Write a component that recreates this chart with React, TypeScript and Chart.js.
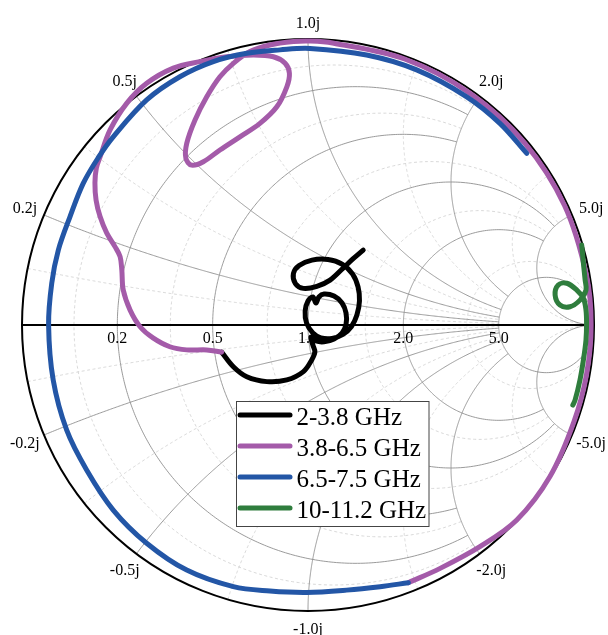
import React, { useEffect, useRef } from "react";
import { Chart, registerables } from "chart.js";

Chart.register(...registerables);

const SERIES_LABELS = ["2-3.8 GHz", "3.8-6.5 GHz", "6.5-7.5 GHz", "10-11.2 GHz"];
const SERIES_COLORS = ["#000000", "#a45ba9", "#2356a6", "#2f7d3d"];

const BLACK_RE = [0.193, 0.157, 0.122, 0.077, 0.031, -0.016, -0.044, -0.051, -0.031, 0.014, 0.07, 0.119, 0.156, 0.175, 0.18, 0.171, 0.152, 0.122, 0.084, 0.045, 0.017, -0.005, -0.01, 0.0, 0.017, 0.028, 0.038, 0.056, 0.091, 0.119, 0.133, 0.133, 0.119, 0.091, 0.056, 0.028, 0.01, 0.017, 0.024, 0.013, -0.016, -0.074, -0.144, -0.214, -0.261, -0.302];
const BLACK_IM = [0.262, 0.231, 0.198, 0.157, 0.135, 0.128, 0.145, 0.18, 0.208, 0.227, 0.229, 0.213, 0.178, 0.133, 0.084, 0.035, -0.005, -0.033, -0.047, -0.045, -0.028, 0.007, 0.049, 0.084, 0.098, 0.077, 0.098, 0.108, 0.101, 0.077, 0.042, 0.003, -0.028, -0.049, -0.059, -0.056, -0.042, -0.07, -0.094, -0.122, -0.163, -0.192, -0.198, -0.181, -0.146, -0.095];

const PURPLE_RE = [-0.302, -0.354, -0.424, -0.483, -0.542, -0.587, -0.622, -0.646, -0.651, -0.657, -0.675, -0.704, -0.727, -0.741, -0.745, -0.74, -0.727, -0.692, -0.634, -0.564, -0.471, -0.378, -0.284, -0.191, -0.121, -0.08, -0.065, -0.074, -0.109, -0.168, -0.238, -0.308, -0.366, -0.407, -0.427, -0.424, -0.395, -0.354, -0.308, -0.261, -0.203, -0.133, -0.051, 0.007, 0.086, 0.338, 0.567, 0.758, 0.897, 0.974, 0.99, 0.974, 0.93, 0.846, 0.73, 0.601, 0.462, 0.351];
const PURPLE_IM = [-0.095, -0.087, -0.087, -0.076, -0.045, -0.006, 0.052, 0.122, 0.192, 0.239, 0.274, 0.322, 0.379, 0.437, 0.497, 0.549, 0.588, 0.682, 0.775, 0.845, 0.898, 0.921, 0.938, 0.944, 0.938, 0.915, 0.88, 0.833, 0.763, 0.705, 0.658, 0.612, 0.571, 0.559, 0.583, 0.635, 0.717, 0.798, 0.868, 0.915, 0.956, 0.979, 0.991, 0.993, 0.986, 0.93, 0.81, 0.636, 0.418, 0.172, 0.0, -0.172, -0.338, -0.53, -0.682, -0.775, -0.851, -0.901];

const BLUE_RE = [0.351, 0.252, 0.135, -0.005, -0.133, -0.261, -0.424, -0.564, -0.681, -0.774, -0.844, -0.891, -0.907, -0.896, -0.873, -0.832, -0.786, -0.734, -0.681, -0.564, -0.448, -0.331, -0.214, -0.098, 0.007, 0.205, 0.38, 0.555, 0.671, 0.765];
const BLUE_IM = [-0.901, -0.915, -0.927, -0.935, -0.93, -0.915, -0.857, -0.763, -0.647, -0.507, -0.367, -0.192, 0.0, 0.146, 0.262, 0.379, 0.495, 0.584, 0.658, 0.787, 0.868, 0.921, 0.95, 0.962, 0.967, 0.944, 0.892, 0.798, 0.705, 0.6];

const GREEN_RE = [0.957, 0.963, 0.969, 0.972, 0.951, 0.916, 0.881, 0.864, 0.875, 0.905, 0.94, 0.963, 0.972, 0.974, 0.972, 0.963, 0.951, 0.934, 0.926];
const GREEN_IM = [0.28, 0.216, 0.157, 0.122, 0.087, 0.064, 0.07, 0.105, 0.14, 0.146, 0.122, 0.093, 0.052, 0.006, -0.052, -0.122, -0.192, -0.262, -0.28];

// ---- Smith chart grid values ----
const MAJOR_TICKS = [0.2, 0.5, 1, 2, 5];
const MAJOR_R_XLIMIT = [2, 2, 5, 5, Infinity];
const MAJOR_X_RLIMIT = [5, 5, 5, 5, Infinity];
const MINOR_TICKS = [0.1, 0.35, 0.75, 1.5, 3.5];
const MINOR_R_XLIMIT = [2, 2, 5, 5, Infinity];
const MINOR_X_RLIMIT = [5, 5, 5, 5, Infinity];

const SERIES = [
  [BLACK_RE, BLACK_IM],
  [PURPLE_RE, PURPLE_IM],
  [BLUE_RE, BLUE_IM],
  [GREEN_RE, GREEN_IM],
];

const FONT = "'Liberation Serif', 'Times New Roman', serif";

function gamma(r: number, x: number): [number, number] {
  const d = (r + 1) * (r + 1) + x * x;
  return [(r * r - 1 + x * x) / d, (2 * x) / d];
}

const N = 400;
function rCurve(r: number, xl: number): [number, number][] {
  const a = xl === Infinity ? Math.PI / 2 : Math.atan(xl);
  const pts: [number, number][] = [];
  for (let i = 0; i <= N; i++) {
    const phi = -a + (2 * a * i) / N;
    if (Math.abs(phi) >= Math.PI / 2 - 1e-9) pts.push([1, 0]);
    else pts.push(gamma(r, Math.tan(phi)));
  }
  return pts;
}
function xCurve(x: number, rl: number): [number, number][] {
  const a = rl === Infinity ? Math.PI / 2 : Math.atan(rl);
  const pts: [number, number][] = [];
  for (let i = 0; i <= N; i++) {
    const psi = (a * i) / N;
    if (psi >= Math.PI / 2 - 1e-9) pts.push([1, 0]);
    else pts.push(gamma(Math.tan(psi), x));
  }
  return pts;
}

const smithPlugin = {
  id: "smithGrid",
  beforeDatasetsDraw(chart: any) {
    const { ctx } = chart;
    const sx = chart.scales.x;
    const sy = chart.scales.y;
    const P = (g: [number, number]) => [sx.getPixelForValue(g[0]), sy.getPixelForValue(g[1])];
    const poly = (pts: [number, number][]) => {
      ctx.beginPath();
      pts.forEach((g, i) => {
        const [px, py] = P(g);
        if (i === 0) ctx.moveTo(px, py);
        else ctx.lineTo(px, py);
      });
      ctx.stroke();
    };
    const cx = sx.getPixelForValue(0);
    const cy = sy.getPixelForValue(0);
    const R = sx.getPixelForValue(1) - cx;

    ctx.save();
    // minor grid
    ctx.setLineDash([3, 2.5]);
    ctx.strokeStyle = "#cfcfcf";
    ctx.lineWidth = 0.8;
    MINOR_TICKS.forEach((t, i) => {
      poly(rCurve(t, MINOR_R_XLIMIT[i]));
      poly(xCurve(t, MINOR_X_RLIMIT[i]));
      poly(xCurve(-t, MINOR_X_RLIMIT[i]));
    });
    // major grid
    ctx.setLineDash([]);
    ctx.strokeStyle = "#8e8e8e";
    ctx.lineWidth = 0.9;
    MAJOR_TICKS.forEach((t, i) => {
      poly(rCurve(t, MAJOR_R_XLIMIT[i]));
      poly(xCurve(t, MAJOR_X_RLIMIT[i]));
      poly(xCurve(-t, MAJOR_X_RLIMIT[i]));
    });
    // boundary and real axis
    ctx.strokeStyle = "#000";
    ctx.lineWidth = 2;
    ctx.beginPath();
    ctx.arc(cx, cy, R, 0, Math.PI * 2);
    ctx.stroke();
    ctx.beginPath();
    ctx.moveTo(cx - R, cy);
    ctx.lineTo(cx + R, cy);
    ctx.stroke();

    // labels
    ctx.fillStyle = "#000";
    ctx.font = `16px ${FONT}`;
    ctx.textAlign = "center";
    ctx.textBaseline = "alphabetic";
    MAJOR_TICKS.forEach((t) => {
      const [px] = P(gamma(t, 0));
      ctx.fillText(t.toFixed(1), px, cy + 18);
    });
    MAJOR_TICKS.forEach((t) => {
      [1, -1].forEach((s) => {
        const g = gamma(0, s * t);
        const d = R + 17 + 4 * Math.abs(g[0]);
        const px = cx + d * g[0];
        const py = cy - d * g[1];
        const label = `${s < 0 ? "-" : ""}${t.toFixed(1)}j`;
        ctx.fillText(label, px, py + 5.5);
      });
    });
    ctx.restore();
  },
  afterDraw(chart: any) {
    const { ctx } = chart;
    const area = chart.chartArea;
    const left = area.left + 214.5;
    const top = area.top + 362.5;
    const w = 192.5;
    const h = 125;
    ctx.save();
    ctx.fillStyle = "#fff";
    ctx.fillRect(left, top, w, h);
    ctx.strokeStyle = "#444";
    ctx.lineWidth = 1;
    ctx.strokeRect(left, top, w, h);
    ctx.font = `25px ${FONT}`;
    ctx.textAlign = "left";
    ctx.textBaseline = "alphabetic";
    chart.data.datasets.forEach((ds: any, i: number) => {
      const y = top + 13.5 + i * 31;
      ctx.strokeStyle = ds.borderColor;
      ctx.lineWidth = 5;
      ctx.lineCap = "round";
      ctx.beginPath();
      ctx.moveTo(left + 3.5, y);
      ctx.lineTo(left + 53.5, y);
      ctx.stroke();
      ctx.fillStyle = "#000";
      ctx.fillText(ds.label, left + 60, y + 9.5);
    });
    ctx.restore();
  },
};

export default function App() {
  const ref = useRef<HTMLCanvasElement | null>(null);
  useEffect(() => {
    if (!ref.current) return;
    const chart = new Chart(ref.current, {
      type: "scatter",
      data: {
        datasets: SERIES.map(([re, im], i) => ({
          label: SERIES_LABELS[i],
          data: re.map((u, k) => ({ x: u, y: im[k] })),
          showLine: true,
          borderColor: SERIES_COLORS[i],
          backgroundColor: SERIES_COLORS[i],
          borderWidth: 5,
          pointRadius: 0,
          tension: 0.35,
          fill: false,
          clip: false as any,
          borderCapStyle: "round",
          borderJoinStyle: "round",
          order: SERIES.length - 1 - i,
        })),
      },
      options: {
        animation: false,
        responsive: false,
        events: [],
        layout: { padding: { left: 22, right: 14, top: 39, bottom: 24 } },
        scales: {
          x: { type: "linear", min: -1, max: 1, display: false },
          y: { type: "linear", min: -1, max: 1, display: false },
        },
        plugins: { legend: { display: false }, tooltip: { enabled: false } },
      } as any,
      plugins: [smithPlugin],
    });
    return () => chart.destroy();
  }, []);
  return (
    <div style={{ position: "absolute", left: 0, top: 0, width: 608, height: 635, background: "#fff" }}>
      <canvas ref={ref} width={608} height={635} />
    </div>
  );
}
